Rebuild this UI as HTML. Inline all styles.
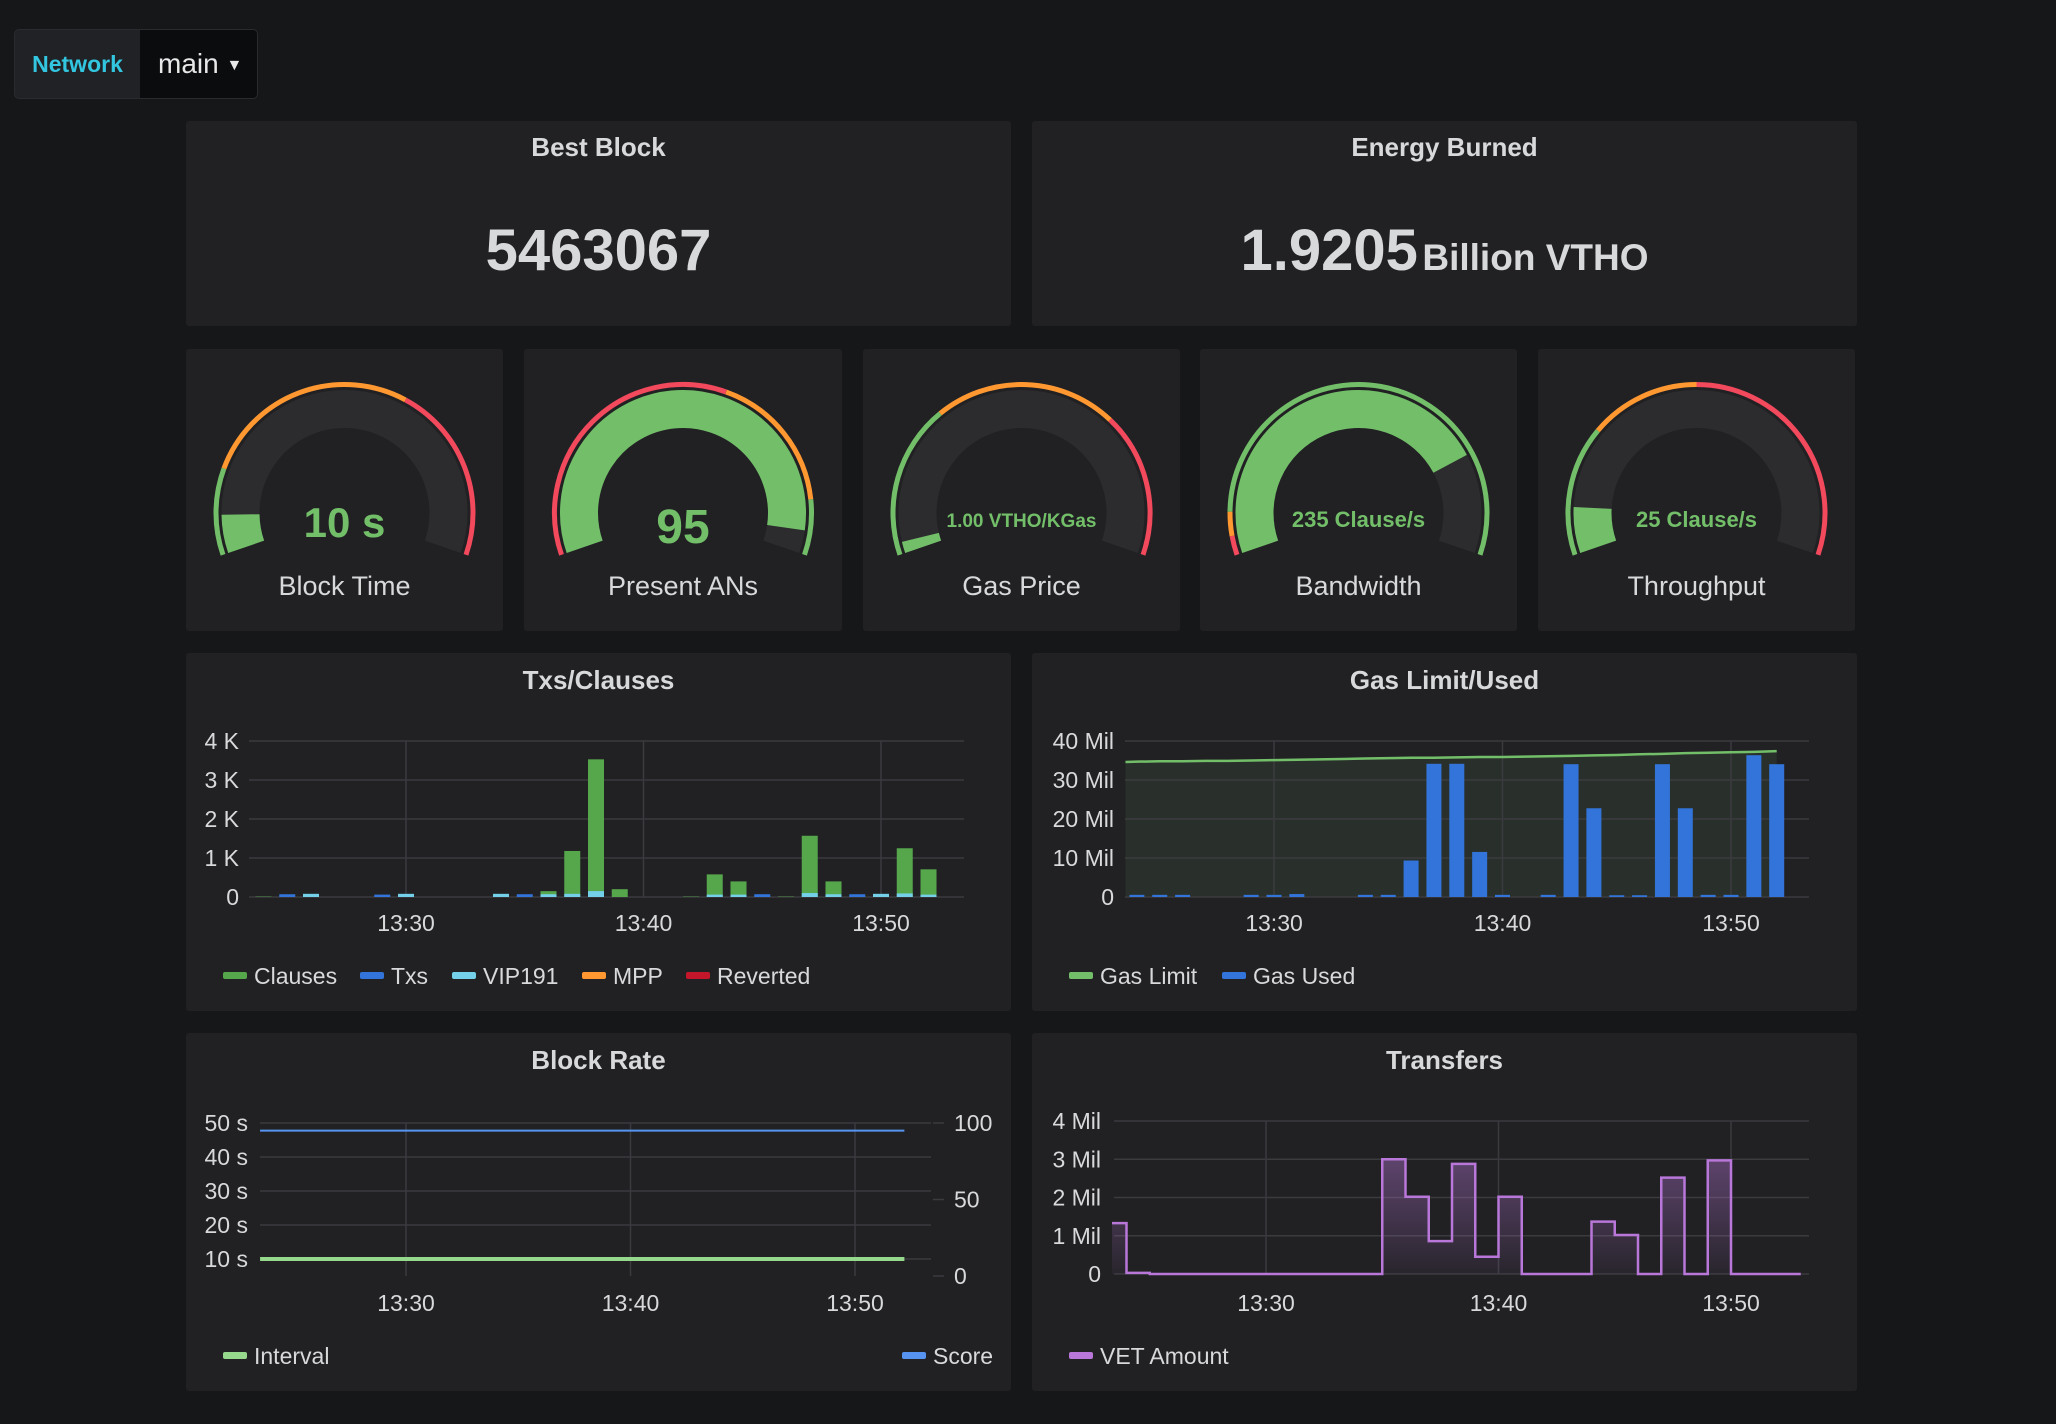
<!DOCTYPE html>
<html><head><meta charset="utf-8">
<style>
html,body{margin:0;padding:0;background:#161719;width:2056px;height:1424px;overflow:hidden;font-family:"Liberation Sans",sans-serif;color:#d8d9da}
.panel{position:absolute;background:#212124;border-radius:3px}
.ptitle{position:absolute;left:0;right:0;text-align:center;font-size:26px;font-weight:bold;color:#d8d9da}
#net{position:absolute;left:14px;top:29px;width:242px;height:68px;border:1px solid #2a2b2f;border-radius:5px;background:#202226;overflow:hidden}
#svg{position:absolute;left:0;top:0}
</style></head><body>
<div id="net">
  <div style="position:absolute;left:0;top:0;width:125px;height:68px;line-height:68px;text-align:center;color:#33c6e0;font-weight:bold;font-size:23px">Network</div>
  <div style="position:absolute;left:125px;top:0;width:117px;height:68px;background:#0b0c0e;line-height:68px;font-size:28px;color:#e8e8e8;padding-left:18px;box-sizing:border-box">main <span style="font-size:16px;vertical-align:3px">&#9660;</span></div>
</div>

<div class="panel" style="left:186px;top:121px;width:825px;height:205px">
  <div class="ptitle" style="top:11px">Best Block</div>
  <div style="position:absolute;left:0;right:0;top:101px;text-align:center;font-size:58px;font-weight:bold;line-height:58px">5463067</div>
</div>
<div class="panel" style="left:1032px;top:121px;width:825px;height:205px">
  <div class="ptitle" style="top:11px">Energy Burned</div>
  <div style="position:absolute;left:0;right:0;top:101px;text-align:center;font-weight:bold;line-height:58px"><span style="font-size:58px">1.9205</span> <span style="font-size:37px">Billion VTHO</span></div>
</div>

<div class="panel" style="left:186px;top:349px;width:317px;height:282px"></div>
<div class="panel" style="left:524px;top:349px;width:318px;height:282px"></div>
<div class="panel" style="left:863px;top:349px;width:317px;height:282px"></div>
<div class="panel" style="left:1200px;top:349px;width:317px;height:282px"></div>
<div class="panel" style="left:1538px;top:349px;width:317px;height:282px"></div>

<div class="panel" style="left:186px;top:653px;width:825px;height:358px">
  <div class="ptitle" style="top:12px">Txs/Clauses</div></div>
<div class="panel" style="left:1032px;top:653px;width:825px;height:358px">
  <div class="ptitle" style="top:12px">Gas Limit/Used</div></div>
<div class="panel" style="left:186px;top:1033px;width:825px;height:358px">
  <div class="ptitle" style="top:12px">Block Rate</div></div>
<div class="panel" style="left:1032px;top:1033px;width:825px;height:358px">
  <div class="ptitle" style="top:12px">Transfers</div></div>

<svg id="svg" width="2056" height="1424" xmlns="http://www.w3.org/2000/svg">
<defs>
<linearGradient id="pg" x1="0" y1="0" x2="0" y2="1"><stop offset="0" stop-color="#b877d9" stop-opacity="0.4"/><stop offset="1" stop-color="#b877d9" stop-opacity="0.05"/></linearGradient>
</defs>
</svg>

<script>
// ---- gauge data ----
const gaugeLabels = ["Block Time","Present ANs","Gas Price","Bandwidth","Throughput"];
const gaugeValues = [10, 95, 1.00, 235, 25];
const gaugeMax = [120, 100, 40, 300, 250];
const gaugeTexts = ["10 s","95","1.00 VTHO/KGas","235 Clause/s","25 Clause/s"];
const gaugeThresh1 = [0.18, 0.59, 0.32, 0.04, 0.27];
const gaugeThresh2 = [0.63, 0.885, 0.70, 0.09, 0.50];
const gaugeColors1 = ["#73bf69","#f2495c","#73bf69","#f2495c","#73bf69"];
const gaugeColors2 = ["#ff9830","#ff9830","#ff9830","#ff9830","#ff9830"];
const gaugeColors3 = ["#f2495c","#73bf69","#f2495c","#73bf69","#f2495c"];

// ---- txs/clauses data ----
const txMinutes = [24,25,26,27,28,29,30,31,32,33,34,35,36,37,38,39,40,41,42,43,44,45,46,47,48,49,50,51,52];
const clauses = [0.01,0.01,0,0,0,0,0.01,0,0,0,0,0,0.15,1.18,3.53,0.2,0,0,0.01,0.58,0.4,0.01,0.01,1.57,0.4,0.01,0.01,1.25,0.71];
const txs = [0,0.02,0,0,0,0.01,0,0,0,0,0.02,0.02,0,0,0,0,0,0,0,0,0,0.02,0,0,0,0.02,0,0,0];
const vip191 = [0,0,0.03,0,0,0,0.03,0,0,0,0.03,0,0.02,0.03,0.1,0,0,0,0,0.01,0.01,0,0,0.05,0.02,0,0.03,0.04,0.01];
const txTicks = [0,1,2,3,4];
const txTickLabels = ["0","1 K","2 K","3 K","4 K"];

// ---- gas data ----
const gasUsed = [0.3,0.3,0.3,0,0,0.3,0.3,0.5,0,0,0.3,0.3,9.1,33.9,33.9,11.3,0.3,0,0.3,33.8,22.5,0.2,0.2,33.8,22.5,0.3,0.3,36.1,33.8];
const gasLimitMinutes = [23.5,24,25,26,27,28,29,30,31,32,33,34,35,36,37,38,39,40,41,42,43,44,45,46,47,48,49,50,51,52];
const gasLimit = [34.6,34.7,34.8,34.8,34.9,34.9,35.0,35.1,35.2,35.3,35.4,35.5,35.6,35.7,35.7,35.8,35.9,35.9,36.0,36.1,36.2,36.3,36.4,36.6,36.7,36.9,37.0,37.1,37.2,37.4];
const gasTicks = [0,10,20,30,40];
const gasTickLabels = ["0","10 Mil","20 Mil","30 Mil","40 Mil"];

// ---- block rate data ----
const brMinutes = [23.5,30,40,52.2];
const interval = [10,10,10,10];
const score = [95,95,95,95];
const brLeftTicks = [10,20,30,40,50];
const brLeftLabels = ["10 s","20 s","30 s","40 s","50 s"];
const brRightTicks = [0,50,100];
const brRightLabels = ["0","50","100"];

// ---- transfers data ----
const trMinutes = [23,24,25,26,27,28,29,30,31,32,33,34,35,36,37,38,39,40,41,42,43,44,45,46,47,48,49,50,51,52];
const trValues = [1.33,0.03,0,0,0,0,0,0,0,0,0,0,3.0,2.02,0.86,2.88,0.45,2.02,0,0,0,1.37,1.02,0,2.52,0,2.97,0,0,0];
const trTicks = [0,1,2,3,4];
const trTickLabels = ["0","1 Mil","2 Mil","3 Mil","4 Mil"];

const timeTicks = [30,40,50];
const timeLabels = ["13:30","13:40","13:50"];

const svg = document.getElementById('svg');
const NS = "http://www.w3.org/2000/svg";
function node(tag, attrs, txt){
  const e = document.createElementNS(NS, tag);
  for (const k in attrs) e.setAttribute(k, attrs[k]);
  if (txt !== undefined) e.textContent = txt;
  svg.appendChild(e);
  return e;
}
const GRID = "#3a3b3e", TXT = "#d8d9da", FS = 23;

// ---- gauges ----
const gaugeCx = [344.5, 683, 1021.5, 1358.5, 1696.5];
const gcy = 513;
function ang(f){ return (199 - 218*f) * Math.PI/180; }
function arc(cx, r, f0, f1){
  const a0 = ang(f0), a1 = ang(f1);
  const x0 = cx + r*Math.cos(a0), y0 = gcy - r*Math.sin(a0);
  const x1 = cx + r*Math.cos(a1), y1 = gcy - r*Math.sin(a1);
  const large = (218*(f1-f0)) > 180 ? 1 : 0;
  return `M${x0} ${y0} A${r} ${r} 0 ${large} 1 ${x1} ${y1}`;
}
gaugeLabels.forEach((lab, i) => {
  const cx = gaugeCx[i];
  const f = Math.min(1, gaugeValues[i]/gaugeMax[i]);
  let e = node('path', {d: arc(cx, 104, 0, 1), stroke: "#2c2c2f", "stroke-width": 38, fill: "none"});
  
  
  e = node('path', {d: arc(cx, 104, 0, f), stroke: "#73bf69", "stroke-width": 38, fill: "none"});
  
  
  e = node('path', {d: arc(cx, 128.5, 0, gaugeThresh1[i]), stroke: gaugeColors1[i], "stroke-width": 5, fill: "none"});
  
  
  e = node('path', {d: arc(cx, 128.5, gaugeThresh1[i], gaugeThresh2[i]), stroke: gaugeColors2[i], "stroke-width": 5, fill: "none"});
  
  
  e = node('path', {d: arc(cx, 128.5, gaugeThresh2[i], 1), stroke: gaugeColors3[i], "stroke-width": 5, fill: "none"});
  
  
  const fs = i === 0 ? 42 : (i === 1 ? 48 : (i === 2 ? 19 : 22));
  const by = i === 0 ? 537 : (i === 1 ? 543 : 527);
  e = node('text', {x: cx, y: by, "text-anchor": "middle", fill: "#73bf69", "font-size": fs, "font-weight": "bold"}, gaugeTexts[i]);
  
  
  e = node('text', {x: cx, y: 595, "text-anchor": "middle", fill: TXT, "font-size": 27}, lab);
  
  
});

// ---- generic helpers ----
function hgrid(x0, x1, y, label, lx){
  let e = node('line', {x1: x0, x2: x1, y1: y, y2: y, stroke: GRID, "stroke-width": 1.5});
  
  
  e = node('text', {x: lx, y: y + 8, "text-anchor": "end", fill: TXT, "font-size": FS}, label);
  
  
}
function vgrid(x, y0, y1, label, ly){
  let e = node('line', {x1: x, x2: x, y1: y0, y2: y1, stroke: GRID, "stroke-width": 1.5});
  
  
  e = node('text', {x: x, y: ly, "text-anchor": "middle", fill: TXT, "font-size": FS}, label);
  
  
}
function legend(x, y, color, label){
  let e = node('rect', {x: x, y: y - 8, width: 24, height: 7, rx: 2, fill: color});
  
  
  e = node('text', {x: x + 31, y: y + 4, fill: TXT, "font-size": FS}, label);
  
  
}

// ---- Txs/Clauses ----
const txX = m => 406 + (m - 30) * 23.75;
const txY = v => 897 - v / 4 * 156;
txTicks.forEach((t, i) => hgrid(249, 964, txY(t), txTickLabels[i], 239));
timeTicks.forEach((t, i) => vgrid(txX(t), 741, 897, timeLabels[i], 931));
txMinutes.forEach((m, i) => {
  const w = 16, x = txX(m) - w/2;
  let e;
  if (clauses[i] > 0) {
    e = node('rect', {x: x, y: txY(clauses[i]), width: w, height: 897 - txY(clauses[i]), fill: "#56a64b"});
    
    
  }
  if (txs[i] > 0) {
    e = node('rect', {x: x, y: txY(txs[i]) - 2, width: w, height: 897 - txY(txs[i]) + 2, fill: "#3274d9"});
    
    
  }
  if (vip191[i] > 0) {
    e = node('rect', {x: x, y: txY(vip191[i]) - 2, width: w, height: 897 - txY(vip191[i]) + 2, fill: "#73d0e8"});
    
    
  }
});
legend(223, 980, "#56a64b", "Clauses");
legend(360, 980, "#3274d9", "Txs");
legend(452, 980, "#73d0e8", "VIP191");
legend(582, 980, "#ff9830", "MPP");
legend(686, 980, "#c4162a", "Reverted");

// ---- Gas ----
const gX = m => 1274 + (m - 30) * 22.85;
const gY = v => 897 - v / 40 * 156;
{
  let d = `M${gX(gasLimitMinutes[0])} 897`;
  gasLimitMinutes.forEach((m, i) => { d += ` L${gX(m)} ${gY(gasLimit[i])}`; });
  d += ` L${gX(gasLimitMinutes[gasLimitMinutes.length-1])} 897 Z`;
  let e = node('path', {d: d, fill: "#73bf69", "fill-opacity": 0.1});
  
  
}
gasTicks.forEach((t, i) => hgrid(1125, 1809, gY(t), gasTickLabels[i], 1114));
timeTicks.forEach((t, i) => vgrid(gX(t), 741, 897, timeLabels[i], 931));
txMinutes.forEach((m, i) => {
  if (gasUsed[i] <= 0) return;
  const w = 15;
  const e = node('rect', {x: gX(m) - w/2, y: gY(gasUsed[i]) - 1, width: w, height: 897 - gY(gasUsed[i]) + 1, fill: "#3274d9"});
  
  
});
{
  const pts = gasLimitMinutes.map((m, i) => `${gX(m)},${gY(gasLimit[i])}`).join(' ');
  const e = node('polyline', {points: pts, fill: "none", stroke: "#73bf69", "stroke-width": 2.5});
  
  
}
legend(1069, 980, "#73bf69", "Gas Limit");
legend(1222, 980, "#3274d9", "Gas Used");

// ---- Block Rate ----
const bX = m => 406 + (m - 30) * 22.45;
const bYL = v => 1276 - (v - 5) / 45 * 153;
const bYR = v => 1276 - v / 100 * 153;
brLeftTicks.forEach((t, i) => hgrid(260, 931, bYL(t), brLeftLabels[i], 248));
timeTicks.forEach((t, i) => vgrid(bX(t), 1123, 1276, timeLabels[i], 1311));
brRightTicks.forEach((t, i) => {
  let e = node('line', {x1: 933, x2: 944, y1: bYR(t), y2: bYR(t), stroke: GRID, "stroke-width": 1.5});
  
  
  e = node('text', {x: 954, y: bYR(t) + 8, fill: TXT, "font-size": FS}, brRightLabels[i]);
  
  
});
{
  let e = node('polyline', {points: brMinutes.map((m, i) => `${bX(m)},${bYL(interval[i])}`).join(' '), fill: "none", stroke: "#96d98d", "stroke-width": 4});
  
  
  e = node('polyline', {points: brMinutes.map((m, i) => `${bX(m)},${bYR(score[i])}`).join(' '), fill: "none", stroke: "#5794f2", "stroke-width": 2});
  
  
}
legend(223, 1360, "#96d98d", "Interval");
legend(902, 1360, "#5794f2", "Score");

// ---- Transfers ----
const tX = m => Math.max(1112, 1266 + (m - 30) * 23.25);
const tY = v => 1274 - v / 4 * 153;
trTicks.forEach((t, i) => hgrid(1114, 1809, tY(t), trTickLabels[i], 1101));
timeTicks.forEach((t, i) => vgrid(tX(t), 1121, 1274, timeLabels[i], 1311));
{
  let d = `M${tX(trMinutes[0])} ${tY(trValues[0])}`;
  trMinutes.forEach((m, i) => {
    d += ` L${tX(m)} ${tY(trValues[i])} L${tX(m + 1)} ${tY(trValues[i])}`;
  });
  const last = trMinutes[trMinutes.length - 1] + 1;
  let e = node('path', {d: d + ` L${tX(last)} 1274 L${tX(trMinutes[0])} 1274 Z`, fill: "url(#pg)"});
  
  
  e = node('path', {d: d, fill: "none", stroke: "#b877d9", "stroke-width": 2.5});
  
  
}
legend(1069, 1360, "#b877d9", "VET Amount");
</script>
</body></html>
